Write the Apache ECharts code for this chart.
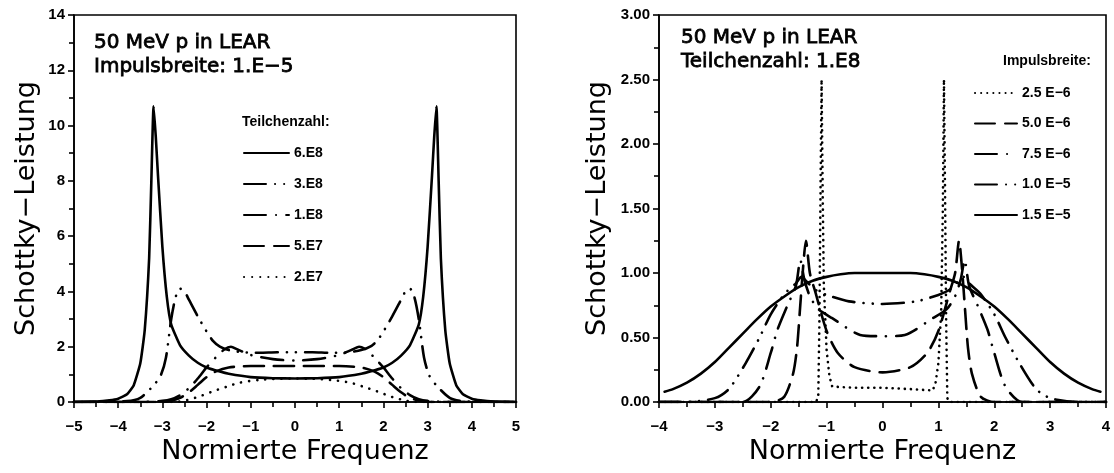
<!DOCTYPE html>
<html><head><meta charset="utf-8">
<script src="https://cdn.jsdelivr.net/npm/echarts@6/dist/echarts.min.js"></script>
<style>html,body{margin:0;padding:0;background:#fff}#c{width:1114px;height:473px}</style>
</head><body><div id="c"></div>
<script>
// ---------- Left panel: Teilchenzahl variation (Impulsbreite 1.E-5) ----------
const leftNames = ['6.E8', '3.E8', '1.E8', '5.E7', '2.E7'];

const L_x_6E8 = [-5, -4.5, -4.2, -4.0, -3.8, -3.65, -3.5, -3.4, -3.3, -3.25, -3.2, -3.15, -3.1, -3.0, -2.9, -2.8, -2.6, -2.4, -2.2, -2.0, -1.7, -1.5, -1.0, -0.5, 0, 0.5, 1.0, 1.5, 1.7, 2.0, 2.2, 2.4, 2.6, 2.8, 2.9, 3.0, 3.1, 3.15, 3.2, 3.25, 3.3, 3.4, 3.5, 3.65, 3.8, 4.0, 4.2, 4.5, 5];
const L_y_6E8 = [0, 0.02, 0.06, 0.12, 0.28, 0.6, 1.4, 2.6, 5.2, 8.0, 10.7, 9.6, 8.2, 5.6, 3.8, 2.8, 2.05, 1.68, 1.42, 1.25, 1.1, 1.02, 0.9, 0.86, 0.85, 0.86, 0.9, 1.02, 1.1, 1.25, 1.42, 1.68, 2.05, 2.8, 3.8, 5.6, 8.2, 9.6, 10.7, 8.0, 5.2, 2.6, 1.4, 0.6, 0.28, 0.12, 0.06, 0.02, 0];

const L_x_3E8 = [-5, -3.8, -3.5, -3.2, -3.04, -2.92, -2.8, -2.7, -2.6, -2.5, -2.4, -2.2, -2.0, -1.85, -1.7, -1.5, -1.2, -0.8, -0.4, 0, 0.4, 0.8, 1.2, 1.5, 1.7, 1.85, 2.0, 2.2, 2.4, 2.5, 2.6, 2.7, 2.8, 2.92, 3.04, 3.2, 3.5, 3.8, 5];
const L_y_3E8 = [0, 0.03, 0.15, 0.6, 0.95, 1.6, 3.0, 3.8, 4.1, 4.0, 3.7, 3.1, 2.55, 2.2, 2.0, 1.88, 1.8, 1.78, 1.8, 1.8, 1.8, 1.78, 1.8, 1.88, 2.0, 2.2, 2.55, 3.1, 3.7, 4.0, 4.1, 3.8, 3.0, 1.6, 0.95, 0.6, 0.15, 0.03, 0];

const L_x_1E8 = [-5, -3.5, -3.0, -2.8, -2.6, -2.4, -2.2, -2.0, -1.8, -1.6, -1.45, -1.3, -1.0, -0.5, 0, 0.5, 1.0, 1.3, 1.45, 1.6, 1.8, 2.0, 2.2, 2.4, 2.6, 2.8, 3.0, 3.5, 5];
const L_y_1E8 = [0, 0, 0.04, 0.1, 0.25, 0.5, 0.85, 1.25, 1.6, 1.9, 2.0, 1.9, 1.7, 1.55, 1.5, 1.55, 1.7, 1.9, 2.0, 1.9, 1.6, 1.25, 0.85, 0.5, 0.25, 0.1, 0.04, 0, 0];

const L_x_5E7 = [-5, -3.0, -2.8, -2.6, -2.4, -2.2, -2.0, -1.8, -1.5, -1.0, -0.5, 0, 0.5, 1.0, 1.5, 1.8, 2.0, 2.2, 2.4, 2.6, 2.8, 3.0, 5];
const L_y_5E7 = [0, 0, 0.05, 0.15, 0.35, 0.62, 0.9, 1.1, 1.25, 1.3, 1.3, 1.3, 1.3, 1.3, 1.25, 1.1, 0.9, 0.62, 0.35, 0.15, 0.05, 0, 0];

const L_x_2E7 = [-5, -2.7, -2.5, -2.2, -1.85, -1.55, -1.25, -0.8, -0.4, 0, 0.4, 0.8, 1.25, 1.55, 1.85, 2.2, 2.5, 2.7, 5];
const L_y_2E7 = [0, 0, 0.05, 0.18, 0.39, 0.55, 0.7, 0.8, 0.84, 0.85, 0.84, 0.8, 0.7, 0.55, 0.39, 0.18, 0.05, 0, 0];

// ---------- Right panel: Impulsbreite variation (Teilchenzahl 1.E8) ----------
const rightNames = ['2.5 E\u22126', '5.0 E\u22126', '7.5 E\u22126', '1.0 E\u22125', '1.5 E\u22125'];

const R_x_25E6 = [-4, -1.2, -1.15, -1.13, -1.11, -1.09, -1.07, -1.05, -1.0, -0.95, -0.9, -0.5, 0, 0.5, 0.9, 0.95, 1.0, 1.05, 1.08, 1.1, 1.12, 1.14, 1.16, 1.2, 4];
const R_y_25E6 = [0, 0, 0.03, 0.6, 1.6, 2.5, 1.6, 0.9, 0.4, 0.2, 0.12, 0.11, 0.11, 0.1, 0.09, 0.15, 0.3, 0.7, 1.5, 2.5, 1.6, 0.6, 0.03, 0, 0];

const R_x_50E6 = [-4, -2.0, -1.76, -1.6, -1.53, -1.48, -1.42, -1.37, -1.3, -1.2, -1.0, -0.8, -0.5, 0, 0.5, 0.8, 1.0, 1.2, 1.3, 1.37, 1.42, 1.48, 1.53, 1.6, 1.76, 2.0, 4];
const R_y_50E6 = [0, 0, 0.04, 0.22, 0.42, 0.7, 1.05, 1.25, 1.0, 0.85, 0.55, 0.38, 0.27, 0.23, 0.27, 0.38, 0.55, 0.85, 1.0, 1.25, 1.05, 0.7, 0.42, 0.22, 0.04, 0, 0];

const R_x_75E6 = [-4, -2.5, -2.2, -2.0, -1.88, -1.7, -1.55, -1.47, -1.4, -1.3, -1.15, -0.9, -0.4, 0, 0.4, 0.9, 1.15, 1.3, 1.4, 1.47, 1.55, 1.7, 1.88, 2.0, 2.2, 2.5, 4];
const R_y_75E6 = [0, 0, 0.12, 0.38, 0.56, 0.75, 0.9, 1.1, 0.95, 0.82, 0.72, 0.65, 0.52, 0.51, 0.52, 0.65, 0.72, 0.82, 0.95, 1.1, 0.9, 0.75, 0.56, 0.38, 0.12, 0, 0];

const R_x_10E5 = [-4, -3.5, -3.0, -2.75, -2.45, -2.2, -2.0, -1.75, -1.55, -1.45, -1.35, -1.2, -1.0, -0.6, 0, 0.6, 1.0, 1.2, 1.35, 1.45, 1.55, 1.75, 2.0, 2.2, 2.45, 2.75, 3.0, 3.5, 4];
const R_y_10E5 = [0, 0, 0.03, 0.1, 0.3, 0.5, 0.68, 0.84, 0.92, 0.97, 0.93, 0.87, 0.83, 0.78, 0.76, 0.78, 0.83, 0.87, 0.93, 0.97, 0.92, 0.84, 0.68, 0.5, 0.3, 0.1, 0.03, 0, 0];

const R_x_15E5 = [-3.9, -3.75, -3.5, -3.25, -3.0, -2.75, -2.5, -2.25, -2.0, -1.75, -1.5, -1.25, -1.0, -0.75, -0.5, -0.25, 0, 0.25, 0.5, 0.75, 1.0, 1.25, 1.5, 1.75, 2.0, 2.25, 2.5, 2.75, 3.0, 3.25, 3.5, 3.75, 3.9];
const R_y_15E5 = [0.08, 0.1, 0.15, 0.22, 0.31, 0.42, 0.53, 0.64, 0.74, 0.82, 0.89, 0.94, 0.97, 0.99, 1.0, 1.0, 1.0, 1.0, 1.0, 0.99, 0.97, 0.94, 0.89, 0.82, 0.74, 0.64, 0.53, 0.42, 0.31, 0.22, 0.15, 0.1, 0.08];

// ---------- Texts ----------
const leftNote = ['50 MeV p in LEAR', 'Impulsbreite: 1.E\u22125'];
const rightNote = ['50 MeV p in LEAR', 'Teilchenzahl: 1.E8'];
const leftLegendTitle = 'Teilchenzahl:';
const rightLegendTitle = 'Impulsbreite:';
const xTitle = 'Normierte Frequenz';
const yTitle = 'Schottky\u2212Leistung';

// ---------- Styles ----------
const DASHDOTDOT = [22, 9, 0.1, 9, 0.1, 9];
const DASHDOT = [22, 10, 0.1, 10];
const DASHED = [20, 10];
const DOTTED_L = [0.1, 8];
const DOTTED_R = [0.1, 6];
const styles = ['solid', DASHDOTDOT, DASHDOT, DASHED, DOTTED_L];
const rightStyles = [DOTTED_R, DASHED, DASHDOT, DASHDOTDOT, 'solid'];

function pairs(xs, ys) { return xs.map((x, i) => [x, ys[i]]); }
function mkSeries(name, xs, ys, type, idx, smooth) {
  return {
    name, type: 'line', xAxisIndex: idx, yAxisIndex: idx,
    data: pairs(xs, ys), symbol: 'none', smooth: smooth,
    lineStyle: { color: '#000', width: 2.6, type: type, cap: 'round', join: 'round' },
    itemStyle: { color: '#000' }, z: 3
  };
}

const leftData = [[L_x_6E8, L_y_6E8], [L_x_3E8, L_y_3E8], [L_x_1E8, L_y_1E8], [L_x_5E7, L_y_5E7], [L_x_2E7, L_y_2E7]];
const rightData = [[R_x_25E6, R_y_25E6], [R_x_50E6, R_y_50E6], [R_x_75E6, R_y_75E6], [R_x_10E5, R_y_10E5], [R_x_15E5, R_y_15E5]];

const series = [];
leftNames.forEach((n, i) => series.push(mkSeries(n, leftData[i][0], leftData[i][1], styles[i], 0, i === 0 ? 0.15 : 0.25)));
rightNames.forEach((n, i) => series.push(mkSeries(n, rightData[i][0], rightData[i][1], rightStyles[i], 1, i === 0 ? 0 : 0.25)));

const tickFont = { color: '#000', fontFamily: 'Liberation Sans', fontWeight: 'bold', fontSize: 15 };
const axisLineStyle = { color: '#000', width: 1.6 };
const minus = v => (v < 0 ? '\u2212' + (-v) : String(v));

function xAxis(idx, min, max) {
  return {
    type: 'value', gridIndex: idx, min, max, interval: 1,
    axisLine: { show: true, onZero: false, lineStyle: axisLineStyle },
    axisTick: { show: true, inside: false, length: 6, lineStyle: axisLineStyle },
    minorTick: { show: true, splitNumber: 2, length: 5, lineStyle: axisLineStyle },
    splitLine: { show: false },
    axisLabel: Object.assign({ margin: 17, formatter: minus }, tickFont),
    name: xTitle, nameLocation: 'middle', nameGap: 31,
    nameTextStyle: { color: '#000', fontFamily: 'DejaVu Sans', fontSize: 27 }
  };
}
function yAxis(idx, max, interval, fmt, gap) {
  return {
    type: 'value', gridIndex: idx, min: 0, max, interval,
    axisLine: { show: true, onZero: false, lineStyle: axisLineStyle },
    axisTick: { show: true, length: 6, lineStyle: axisLineStyle },
    minorTick: { show: true, splitNumber: 2, length: 5, lineStyle: axisLineStyle },
    splitLine: { show: false },
    axisLabel: Object.assign({ margin: 9, formatter: fmt }, tickFont),
    name: yTitle, nameLocation: 'middle', nameGap: gap, nameRotate: 90,
    nameTextStyle: { color: '#000', fontFamily: 'DejaVu Sans', fontSize: 27 }
  };
}

const noteStyle = { color: '#000', fontFamily: 'DejaVu Sans', fontSize: 20, fontWeight: 'normal', lineHeight: 24, textBorderColor: '#000', textBorderWidth: 0.8 };
const headStyle = { color: '#000', fontFamily: 'Liberation Sans', fontSize: 14, fontWeight: 'bold' };
const legendText = { color: '#000', fontFamily: 'Liberation Sans', fontWeight: 'bold', fontSize: 14 };

const option = {
  animation: false,
  backgroundColor: '#fff',
  grid: [
    { left: 74, top: 15, width: 442, height: 387, show: true, borderColor: '#000', borderWidth: 1.6, backgroundColor: 'transparent' },
    { left: 659, top: 15, width: 447, height: 387, show: true, borderColor: '#000', borderWidth: 1.6, backgroundColor: 'transparent' }
  ],
  xAxis: [xAxis(0, -5, 5), xAxis(1, -4, 4)],
  yAxis: [
    yAxis(0, 14, 2, v => String(v), 34),
    yAxis(1, 3, 0.5, v => v.toFixed(2), 48)
  ],
  title: [
    { text: leftNote.join('\n'), left: 94, top: 31, padding: 0, textStyle: noteStyle },
    { text: rightNote.join('\n'), left: 681, top: 26, padding: 0, textStyle: noteStyle },
    { text: leftLegendTitle, left: 242, top: 115, padding: 0, textStyle: headStyle },
    { text: rightLegendTitle, left: 1003, top: 54, padding: 0, textStyle: headStyle }
  ],
  legend: [
    { data: leftNames, orient: 'vertical', left: 243, top: 146, itemWidth: 45, itemHeight: 14, itemGap: 17, padding: 0,
      itemStyle: { opacity: 0, borderWidth: 0 }, textStyle: legendText, selectedMode: false },
    { data: rightNames, orient: 'vertical', left: 974, top: 86, itemWidth: 42, itemHeight: 14, itemGap: 16.5, padding: 0,
      itemStyle: { opacity: 0, borderWidth: 0 }, textStyle: legendText, selectedMode: false }
  ],
  series
};

const chart = echarts.init(document.getElementById('c'), null, { renderer: 'canvas' });
chart.setOption(option);
</script>
</body></html>
